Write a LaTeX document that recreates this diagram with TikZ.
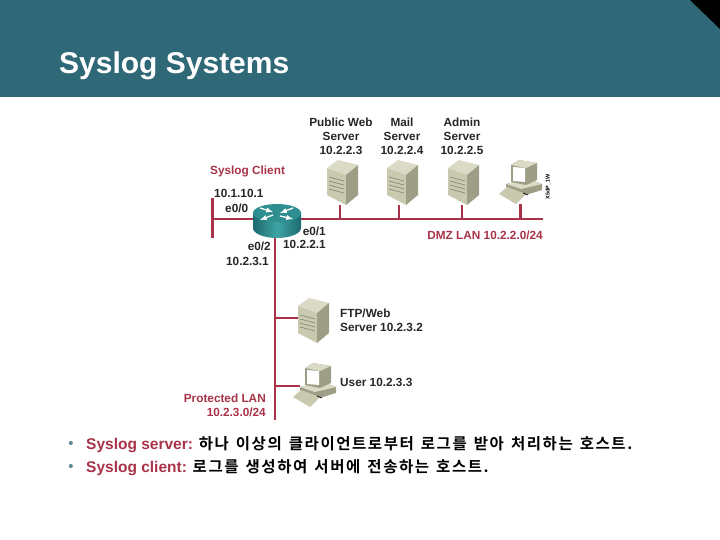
\documentclass[tikz,border=0pt]{standalone}
\usepackage{fontspec}
\usepackage{tikz}
\usetikzlibrary{positioning,calc}
\setmainfont{Liberation Sans}
\newfontfamily\korfont[LetterSpace=10,WordSpace=1.4]{Noto Sans CJK KR Bold}
\definecolor{headteal}{HTML}{2F6877}
\definecolor{lanred}{HTML}{A83348}
\definecolor{bulletteal}{HTML}{5F8A96}
\definecolor{boxtop}{HTML}{DADAC6}
\definecolor{boxfront}{HTML}{C9C9AF}
\definecolor{boxside}{HTML}{9E9E86}
\definecolor{routertop}{HTML}{2F8F90}
\definecolor{routerdark}{HTML}{1C6A70}
\definecolor{routerlight}{HTML}{3FA3A3}
\begin{document}
\begin{tikzpicture}[x=1pt, y=-1pt, every node/.style={align=center, inner sep=0pt},
  lbl/.style={font=\fontsize{11.8}{14}\selectfont\bfseries, text=black!85},
  redlbl/.style={lbl, text=lanred},
  bullet/.style={font=\fontsize{15.5}{18}\selectfont, text=black, anchor=west},
  dotlbl/.style={text=bulletteal, font=\fontsize{15}{18}\selectfont},
  lan/.style={draw=lanred, line width=2.2pt},
  hostbox/.style={minimum width=31pt, minimum height=45pt},
  pcbox/.style={minimum width=43pt, minimum height=44pt},
  serverpic/.pic={
    \fill[boxtop] (0,8) -- (11,0) -- (31,5) -- (19,15) -- cycle;
    \fill[boxfront] (0,8) -- (19,15) -- (19,45) -- (0,35) -- cycle;
    \fill[boxside] (19,15) -- (31,5) -- (31,35) -- (19,45) -- cycle;
    \foreach \yy in {17,21,25,29} \draw[black!60, line width=.4pt] (2,\yy) -- (17,\yy+4);
  },
  pcpic/.pic={
    \fill[boxside] (7,24) -- (30,19) -- (43,24) -- (43,30) -- (20,37) -- (7,30) -- cycle;
    \fill[boxfront] (0,34) -- (8,27) -- (27,34) -- (17,44) -- cycle;
    \fill[boxtop] (7,24) -- (22,29) -- (43,24) -- (30,19) -- cycle;
    \fill[boxside] (12,5) -- (20,0) -- (38,3) -- (38,20) -- (27,25) -- (12,22) -- cycle;
    \fill[boxtop] (12,5) -- (20,0) -- (38,3) -- (27,8) -- cycle;
    \fill[white] (14,7) -- (26,8) -- (26,22) -- (14,21) -- cycle;
    \draw[black, line width=.7pt] (24,33) -- (29,35);
  }]
\useasboundingbox (0,0) rectangle (720,540);
\fill[headteal] (0,0) rectangle (720,97);
\fill[black] (690,0) -- (720,0) -- (720,29) -- cycle;
\node[anchor=west, text=white, font=\fontsize{30}{32}\selectfont\bfseries] (title) at (59,66) {Syslog Systems};

\node[minimum width=48pt, minimum height=36pt] (router) at (277,219) {};
\node[hostbox] (web) at (342.5,182.5) {};
\node[hostbox] (mail) at (402.5,182.5) {};
\node[hostbox] (admin) at (463.5,182.5) {};
\node[pcbox] (dmzpc) at (520.5,182) {};
\node[hostbox] (ftp) at (313.5,320.5) {};
\node[pcbox] (userpc) at (314.5,385) {};
\coordinate (dmzend) at (543,219);
\coordinate (protend) at (275,420);
\coordinate (stubtop) at (212,198);
\coordinate (stubbot) at (212,238);

\draw[lan, line width=3pt] (stubtop) -- (stubbot);
\draw[lan] (stubtop |- router) -- (router.west);
\draw[lan] (router.east) -- (dmzend);
\draw[lan] (protend |- router.south) -- (protend);
\draw[lan] ([xshift=-2.5pt]web.south) -- ([xshift=-2.5pt]web.south |- dmzend);
\draw[lan] ([xshift=-3.5pt]mail.south) -- ([xshift=-3.5pt]mail.south |- dmzend);
\draw[lan] ([xshift=-1.5pt]admin.south) -- ([xshift=-1.5pt]admin.south |- dmzend);
\draw[lan] (dmzpc.south) -- (dmzpc.south |- dmzend);
\draw[lan] (protend |- ftp) ++(0,-2.5) -- ++(23,0);
\draw[lan] (protend |- userpc) ++(0,1) -- ++(25,0);

\pic at (327,160) {serverpic};
\pic at (387,160) {serverpic};
\pic at (448,160) {serverpic};
\pic at (499,160) {pcpic};
\pic at (298,298) {serverpic};
\pic at (293,363) {pcpic};

\shade[left color=routerdark, right color=routerdark, middle color=routerlight] (253,213) -- (253,228) arc[start angle=180, end angle=0, x radius=24, y radius=10] -- (301,213) -- cycle;
\fill[routertop] (277,213) ellipse[x radius=24, y radius=9];
\foreach \ax/\ay/\bx/\by in {260/208/273/212, 293/208/280/213, 273/215/260/220, 280/216/293/219}
  \draw[white, -latex, line width=1.3pt] (\ax,\ay) -- (\bx,\by);

\node[lbl] (weblbl) at (341,136) {Public Web\\Server\\10.2.2.3};
\node[lbl] (maillbl) at (402,136) {Mail\\Server\\10.2.2.4};
\node[lbl] (adminlbl) at (462,136) {Admin\\Server\\10.2.2.5};
\node[redlbl, anchor=west] (clientlbl) at (210,171) {Syslog Client};
\node[lbl, anchor=west] (ipa) at (214,193) {10.1.10.1};
\node[lbl, anchor=west] (ethzero) at (225,208) {e0/0};
\node[lbl, anchor=east] (ethone) at (326,231) {e0/1};
\node[lbl, anchor=east] (ipb) at (326,244) {10.2.2.1};
\node[lbl, anchor=east] (ethtwo) at (271,246) {e0/2};
\node[lbl, anchor=east] (ipc) at (269,261) {10.2.3.1};
\node[redlbl, anchor=east] (dmzlbl) at (543,235) {DMZ LAN 10.2.2.0/24};
\node[lbl, anchor=west, align=left] (ftplbl) at (340,320) {FTP/Web\\Server 10.2.3.2};
\node[lbl, anchor=west] (userlbl) at (340,382) {User 10.2.3.3};
\node[redlbl, anchor=east, align=right] (protlbl) at (266,405) {Protected LAN\\10.2.3.0/24};
\node[rotate=90, font=\fontsize{5.5}{6}\selectfont\bfseries] (figtag) at (548,187) {X5dP\_1W};

\node[dotlbl] (dota) at (71,445) {•};
\node[dotlbl] (dotb) at (71,468) {•};
\node[bullet] (linea) at (86,445) {\textcolor{lanred}{\textbf{Syslog server:}} {\korfont 하나 이상의 클라이언트로부터 로그를 받아 처리하는 호스트.}};
\node[bullet] (lineb) at (86,468) {\textcolor{lanred}{\textbf{Syslog client:}} {\korfont 로그를 생성하여 서버에 전송하는 호스트.}};
\end{tikzpicture}
\end{document}
